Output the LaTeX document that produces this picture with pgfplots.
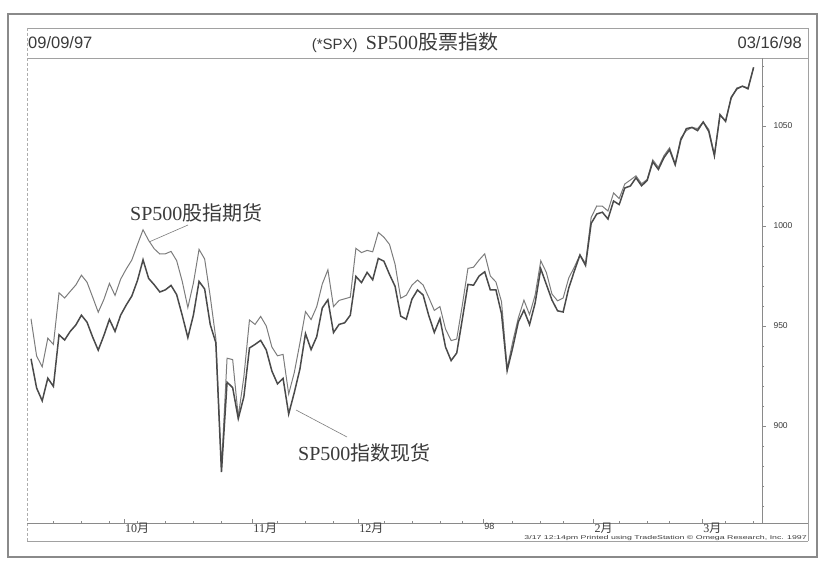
\documentclass[border=0pt]{standalone}
\usepackage{pgfplots}
\pgfplotsset{compat=1.18}
\usepackage{pgfplotstable}
\usepackage{graphicx}
\usepackage{fontspec}
\setmainfont{Liberation Serif}
\newfontfamily\cjk{Noto Sans CJK SC}
\newfontfamily\arial{Liberation Sans}
\definecolor{spotc}{HTML}{4A4A4A}
\definecolor{futc}{HTML}{7C7C7C}
\definecolor{framec}{HTML}{8A8A8A}
\definecolor{textc}{HTML}{3A3A3A}

\pgfplotstableread{
i spot fut
0 933.6 953.6
1 919.0 935.0
2 912.6 929.6
3 923.9 943.9
4 919.8 940.8
5 945.6 966.6
6 943.0 964.0
7 947.3 967.3
8 950.5 970.5
9 955.4 975.4
10 951.9 971.9
11 944.5 964.5
12 937.9 956.9
13 945.2 963.2
14 953.3 971.3
15 947.3 965.3
16 955.4 973.4
17 960.5 978.5
18 965.0 983.0
19 972.7 990.7
20 983.1 998.1
21 973.8 992.8
22 970.6 988.6
23 967.0 986.0
24 968.1 986.1
25 970.3 987.3
26 965.7 982.7
27 955.3 972.3
28 944.2 959.2
29 955.6 971.6
30 972.3 988.3
31 968.5 983.5
32 950.7 964.7
33 941.6 943.6
34 877.0 879.0
35 921.9 933.9
36 919.2 933.2
37 903.7 904.7
38 914.6 924.6
39 939.0 953.0
40 940.8 950.8
41 942.8 954.8
42 938.0 950.0
43 927.5 939.5
44 921.1 935.1
45 923.8 935.8
46 906.0 916.0
47 916.7 926.7
48 928.4 941.4
49 946.2 957.2
50 938.2 953.2
51 944.6 959.6
52 959.0 971.0
53 963.1 978.1
54 946.7 959.7
55 950.8 962.8
56 951.6 963.6
57 955.4 964.4
58 974.8 988.8
59 971.7 986.7
60 976.8 987.8
61 973.1 987.1
62 983.8 996.8
63 982.4 994.4
64 975.8 990.8
65 969.8 980.8
66 954.9 963.9
67 953.4 965.4
68 963.4 970.4
69 968.0 973.0
70 965.5 970.5
71 955.3 964.3
72 946.8 957.8
73 953.7 959.7
74 939.5 948.5
75 932.7 942.7
76 936.5 943.5
77 953.4 960.4
78 970.8 978.8
79 970.4 979.4
80 975.0 983.0
81 977.1 986.1
82 968.0 975.0
83 968.0 972.0
84 956.1 962.1
85 927.7 928.7
86 939.2 942.2
87 952.1 954.1
88 957.9 962.9
89 950.7 955.7
90 961.5 965.5
91 978.6 982.6
92 970.8 976.8
93 963.0 966.0
94 957.6 962.6
95 957.0 964.0
96 969.0 974.0
97 977.5 979.5
98 985.5 985.5
99 980.3 981.3
100 1001.3 1004.3
101 1006.0 1010.0
102 1006.9 1009.9
103 1003.5 1007.5
104 1012.5 1016.5
105 1010.7 1013.7
106 1019.0 1021.0
107 1020.0 1023.0
108 1024.1 1025.1
109 1020.1 1021.1
110 1022.8 1023.3
111 1032.1 1033.1
112 1028.3 1029.3
113 1034.2 1035.2
114 1038.1 1039.1
115 1030.6 1031.1
116 1042.9 1043.9
117 1048.7 1047.7
118 1049.3 1049.3
119 1047.7 1048.7
120 1052.0 1052.0
121 1047.3 1048.3
122 1035.1 1035.6
123 1055.7 1055.2
124 1052.3 1052.8
125 1064.3 1063.8
126 1068.5 1069.0
127 1069.9 1069.9
128 1068.6 1069.1
129 1079.3 1079.3
}\sptable

\begin{document}
\begin{tikzpicture}[x=1pt,y=1pt]
\path[use as bounding box] (0,0) rectangle (824,560);
% outer frame
\draw[framec, line width=1.6pt] (8,3) rectangle (817,546);
% header box and chart box
\draw[framec!80, line width=0.7pt] (27,532) -- (808,532);
\draw[framec!80, line width=0.7pt] (27,502) -- (808,502);
\draw[framec!70, line width=0.6pt, densely dashed] (27,532) -- (27,19);
\draw[framec!80, line width=0.7pt] (808,532) -- (808,19);
\draw[framec!80, line width=0.7pt] (27,19) -- (808,19);
\draw[framec, line width=0.8pt] (27,37) -- (808,37);
% header texts
\node[anchor=west, inner sep=0pt, text=textc] at (28,517) {\arial\fontsize{16.5}{16.5}\selectfont 09/09/97};
\node[anchor=east, inner sep=0pt, text=textc] at (802,517) {\arial\fontsize{16.5}{16.5}\selectfont 03/16/98};
\node[inner sep=0pt, text=textc] at (405,517) {\arial\fontsize{15}{15}\selectfont (*SPX)\ \ \rmfamily\fontsize{20}{20}\selectfont SP500\cjk 股票指数};

\begin{axis}[at={(30pt,37pt)}, anchor=south west, scale only axis,
  width=732pt, height=465pt,
  xmin=-0.18, xmax=130.5, ymin=851.5, ymax=1084,
  axis x line*=bottom, axis y line*=right,
  axis line style={framec, line width=0.8pt, -},
  xtick={16.6,39.5,58.4,80.7,100.4,119.8},
  xticklabels={{10\cjk 月},{11\cjk 月},{12\cjk 月},{\arial\fontsize{9}{9}\selectfont 98},{2\cjk 月},{3\cjk 月}},
  xticklabel style={anchor=north west, inner xsep=1pt, inner ysep=0pt, yshift=0pt, text=textc, font=\fontsize{12}{12}\selectfont},
  minor xtick={4,9,14,19,24,29,34,44,49,54,63,68,73,77,86,91,95,105,110,114,124,129},
  xtick align=inside, ytick align=outside,
  ytick={900,950,1000,1050},
  minor ytick={860,870,880,890,910,920,930,940,960,970,980,990,1010,1020,1030,1040,1060,1070,1080},
  major tick length=4pt, minor tick length=2pt,
  tick style={framec, line width=0.6pt},
  yticklabel style={text=textc, font=\arial\fontsize{8.5}{8.5}\selectfont, xshift=4pt},
  /pgf/number format/assume math mode=true,
  /pgf/number format/1000 sep={},
]
\addplot[futc, line width=1.0pt] table[x=i, y=fut]{\sptable};
\addplot[spotc, line width=1.5pt] table[x=i, y=spot]{\sptable};
\end{axis}

% annotations
\node[anchor=west, inner sep=0pt, text=textc] at (130,347) {\fontsize{20}{20}\selectfont SP500\cjk 股指期货};
\draw[framec!90!black, line width=0.6pt] (188,335) -- (149,318);
\node[anchor=west, inner sep=0pt, text=textc] at (298,107) {\fontsize{20}{20}\selectfont SP500\cjk 指数现货};
\draw[framec!90!black, line width=0.6pt] (296,150) -- (347,123);
% footer
\node[anchor=east, inner sep=0pt, text=textc] at (807,21.8) {\scalebox{1.6}[1]{\arial\fontsize{5.5}{5.5}\selectfont 3/17 12:14pm Printed using TradeStation \textcopyright\ Omega Research, Inc. 1997}};
\end{tikzpicture}
\end{document}
